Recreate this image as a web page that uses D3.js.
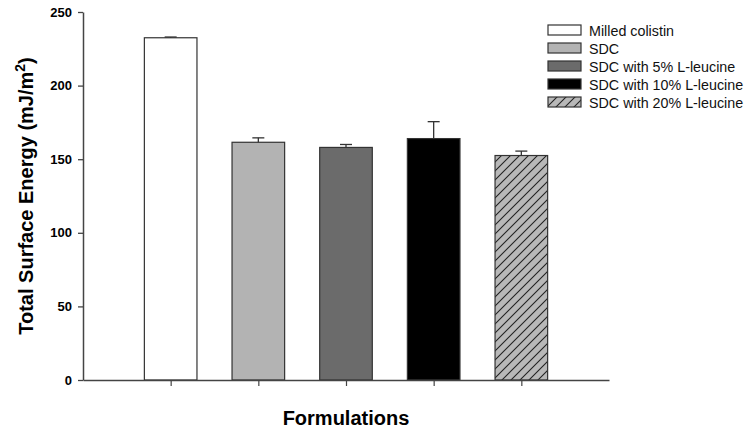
<!DOCTYPE html>
<html>
<head>
<meta charset="utf-8">
<script src="https://cdn.jsdelivr.net/npm/d3@7"></script>
<style>
  body { margin: 0; background: #fff; }
  svg { display: block; font-family: Arial, "Liberation Sans", sans-serif; }
</style>
</head>
<body>
<svg id="chart" width="750" height="433"></svg>
<script>
// data
const formulations = ["Milled colistin", "SDC", "SDC with 5% L-leucine", "SDC with 10% L-leucine", "SDC with 20% L-leucine"];
const energy = [232.5, 161.5, 158, 164, 152.5];
const errors = [0.5, 3, 2, 11.5, 3];
const yTicks = [0, 50, 100, 150, 200, 250];

const fills = ["#ffffff", "#b3b3b3", "#6b6b6b", "#000000", "url(#hatch)"];

const svg = d3.select("#chart");
const margin = { left: 83, right: 141, top: 12, bottom: 53 };
const W = 750, H = 433;

const data = formulations.map((f, i) => ({ name: f, value: energy[i], err: errors[i], fill: fills[i] }));

// hatch pattern for the last bar
const defs = svg.append("defs");
const pat = defs.append("pattern")
    .attr("id", "hatch")
    .attr("patternUnits", "userSpaceOnUse")
    .attr("width", 9).attr("height", 9);
pat.append("rect").attr("width", 9).attr("height", 9).attr("fill", "#b8b8b8");
pat.append("path")
    .attr("d", "M-2,11 L11,-2 M-2,2 L2,-2 M7,11 L11,7")
    .attr("stroke", "#222").attr("stroke-width", 1.1);

const x = d3.scalePoint()
    .domain(formulations)
    .range([margin.left, W - margin.right])
    .padding(1);

const y = d3.scaleLinear()
    .domain([0, 250])
    .range([H - margin.bottom, margin.top]);

const barW = x.step() * 0.6;

// bars
svg.append("g")
  .selectAll("rect")
  .data(data)
  .join("rect")
    .attr("x", d => x(d.name) - barW / 2)
    .attr("y", d => y(d.value))
    .attr("width", barW)
    .attr("height", d => y(0) - y(d.value))
    .attr("fill", d => d.fill)
    .attr("stroke", "#333")
    .attr("stroke-width", 1.2);

// error bars (upper only)
const eb = svg.append("g").attr("stroke", "#333").attr("stroke-width", 1.3);
eb.selectAll("line.v")
  .data(data)
  .join("line")
    .attr("class", "v")
    .attr("x1", d => x(d.name)).attr("x2", d => x(d.name))
    .attr("y1", d => y(d.value)).attr("y2", d => y(d.value + d.err));
eb.selectAll("line.cap")
  .data(data)
  .join("line")
    .attr("class", "cap")
    .attr("x1", d => x(d.name) - 6).attr("x2", d => x(d.name) + 6)
    .attr("y1", d => y(d.value + d.err)).attr("y2", d => y(d.value + d.err));

// y axis
const yAxis = svg.append("g")
    .attr("transform", `translate(${margin.left},0)`)
    .call(d3.axisLeft(y).tickValues(yTicks).tickSize(5).tickSizeOuter(0).tickPadding(6));
yAxis.select(".domain").attr("stroke", "#444").attr("stroke-width", 1.5);
yAxis.selectAll(".tick line").attr("stroke", "#444").attr("stroke-width", 1.3);
yAxis.selectAll(".tick text")
    .attr("fill", "#000")
    .style("font-size", "13px")
    .style("font-weight", "bold");

// x axis
const xAxis = svg.append("g")
    .attr("transform", `translate(0,${y(0)})`)
    .call(d3.axisBottom(x).tickSize(6).tickSizeOuter(0).tickFormat(""));
xAxis.select(".domain").attr("stroke", "#444").attr("stroke-width", 1.5);
xAxis.selectAll(".tick line").attr("stroke", "#444").attr("stroke-width", 1.2);

// axis titles
svg.append("text")
    .attr("x", 346)
    .attr("y", 425)
    .attr("text-anchor", "middle")
    .style("font-size", "20px")
    .style("font-weight", "bold")
    .text("Formulations");

const yTitle = svg.append("text")
    .attr("transform", `translate(33,${(y(0) + y(250)) / 2}) rotate(-90)`)
    .attr("text-anchor", "middle")
    .style("font-size", "20px")
    .style("font-weight", "bold");
yTitle.append("tspan").text("Total Surface Energy (mJ/m");
yTitle.append("tspan").attr("dy", -8).style("font-size", "14px").text("2");
yTitle.append("tspan").attr("dy", 8).text(")");

// legend
const legend = svg.append("g").attr("transform", "translate(548,25)");
const item = legend.selectAll("g")
  .data(data)
  .join("g")
    .attr("transform", (d, i) => `translate(0,${i * 18})`);
item.append("rect")
    .attr("width", 33).attr("height", 10)
    .attr("fill", d => d.fill)
    .attr("stroke", "#333").attr("stroke-width", 1.2);
item.append("text")
    .attr("x", 41).attr("y", 10.5)
    .style("font-size", "14.3px")
    .attr("fill", "#111")
    .text(d => d.name);
</script>
</body>
</html>
